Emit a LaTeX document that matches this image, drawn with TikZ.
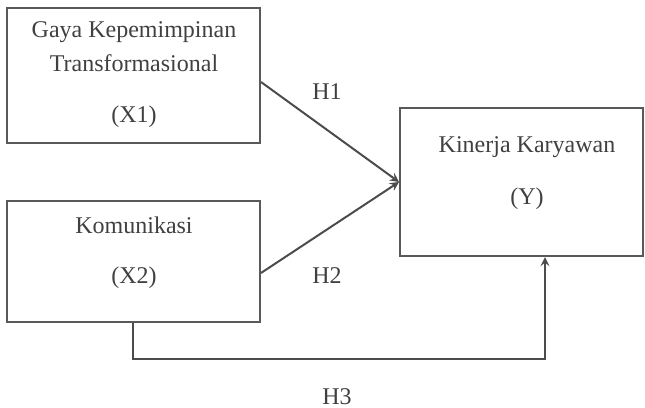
\documentclass[tikz,border=0pt]{standalone}
\usepackage{fontspec}
\setmainfont{Liberation Serif}
\usetikzlibrary{positioning}

\begin{document}
\begin{tikzpicture}[->,>=stealth,x=0.5pt,y=-0.5pt,line width=1pt,draw=black!70,
    box node/.style={rectangle,draw=black!65,line width=1pt},
    txt node/.style={font=\fontsize{12}{14}\selectfont,text=black!75}]
            \useasboundingbox (0,0) rectangle (645,408);

            % boxes
            \node[box node,minimum width=126.5pt,minimum height=67.5pt] (X1) at (133.5,75.5) {};
            \node[box node,minimum width=126.5pt,minimum height=60.5pt] (X2) at (133.5,261.5) {};
            \node[box node,minimum width=121.5pt,minimum height=74pt] (Y) at (521.5,182) {};

            % texts in the boxes
            \node[txt node] (x1a) at (134,32) {Gaya Kepemimpinan};
            \node[txt node] (x1b) [below of = x1a, node distance = 15.5pt] {Transformasional};
            \node[txt node] (x1c) at (134,117) {(X1)};

            \node[txt node] (x2a) at (134,225) {Komunikasi};
            \node[txt node] (x2b) [below of = x2a, node distance = 26.5pt] {(X2)};

            \node[txt node] (ya) at (527,147) {Kinerja Karyawan};
            \node[txt node] (yb) [below of = ya, node distance = 26pt] {(Y)};

            % hypotheses
            \node[txt node] (h1) at (327,92) {H1};
            \node[txt node] (h2) at (327,276) {H2};
            \node[txt node] (h3) at (337,397) {H3};

            \coordinate (c1) at (134,359);
            \coordinate (c2) at (545,359);

            \draw ([yshift=-3.25pt]X1.east) -- (Y.west);
            \draw ([yshift=-5.75pt]X2.east) -- (Y.west);
            \draw (X2.south) |- (c2) -- (c2 |- Y.south);
        \end{tikzpicture}
\end{document}
